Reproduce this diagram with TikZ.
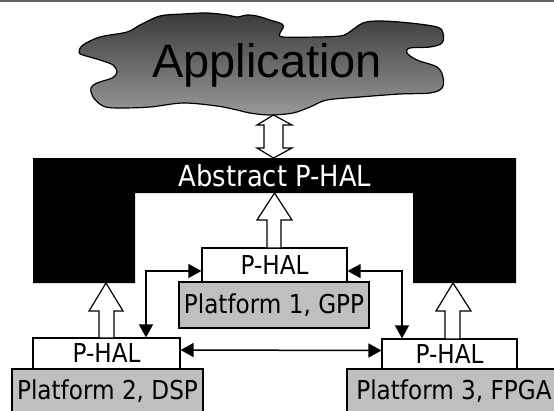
\documentclass[tikz,border=0pt]{standalone}
\usepackage{fontspec}
\usetikzlibrary{arrows.meta,calc}
\newfontfamily\tah[FakeStretch=0.89]{DejaVu Sans}
\newfontfamily\ari{Liberation Sans}
\begin{document}
\begin{tikzpicture}[x=1pt,y=-1pt,
  box/.style={draw=black,line width=1.2pt,inner sep=0pt,font=\tah\fontsize{26}{30}\selectfont},
  phal/.style={box,fill=white},
  plat/.style={box,fill=black!25},
  blk/.style={draw=black,line width=1.2pt,fill=white,line join=miter},
  dbl/.style={line width=1.5pt,{Triangle[length=13pt,width=14pt]}-{Triangle[length=13pt,width=14pt]}}]
\useasboundingbox (0,0) rectangle (554,410);
\fill[white] (0,0) rectangle (554,410);
\draw[black!60,line width=1.5pt] (0,0.75)--(554,0.75);
% cloud
\shade[top color=black!77,bottom color=black!40,draw=black,line width=1.2pt]
  plot[smooth cycle,tension=0.55] coordinates {
  (160,16) (183,14) (207,13) (227,15) (237,17) (247,15) (257,16) (270,20)
  (282,24) (283,28) (280,33) (283,37) (317,37) (340,36) (348,33) (363,23)
  (380,21) (410,23) (437,27) (443,33) (442,43) (430,47) (410,48) (407,53)
  (417,60) (437,67) (443,77) (442,88) (430,93) (400,94) (360,97) (327,100)
  (310,107) (293,113) (270,115) (250,113) (237,110) (217,106) (183,103)
  (150,107) (117,108) (103,106) (93,97) (91,88) (97,83) (112,78) (117,72)
  (113,65) (100,60) (83,55) (79,52) (83,45) (100,37) (127,32) (140,25)};
\node[font=\ari\fontsize{47}{50}\selectfont,inner sep=0pt] (app) at (267,65) {Application};
% double arrow
\draw[blk] (273.5,115) -- (292,125) -- (283,125) -- (283,148) -- (292,148) -- (273.5,158)
  -- (257,148) -- (264,148) -- (264,125) -- (257,125) -- cycle;
% abstract P-HAL
\fill[black] (33,158) -- (516,158) -- (516,283) -- (413,283) -- (413,193) -- (135,193)
  -- (135,283) -- (33,283) -- cycle;
\node[font=\tah\fontsize{29}{34}\selectfont,text=white,inner sep=0pt] (abs) at (275,176) {Abstract P-HAL};
% platform boxes
\node[plat,minimum width=190pt,minimum height=46pt] (plat1) at (274,305) {Platform 1, GPP};
\node[phal,minimum width=145pt,minimum height=34pt] (phal1) at (274.5,265) {P-HAL};
\node[plat,minimum width=191pt,minimum height=44pt] (plat2) at (107.5,391) {Platform 2, DSP};
\node[phal,minimum width=147pt,minimum height=31pt] (phal2) at (106.5,353.5) {P-HAL};
\node[plat,minimum width=214pt,minimum height=44pt] (plat3) at (454,391) {Platform 3, FPGA};
\node[phal,minimum width=135pt,minimum height=30pt] (phal3) at (449.5,354) {P-HAL};
% block up arrows
\draw[blk] (274.5,193) -- (292,220) -- (281,220) -- (281,248) -- (267,248) -- (267,220) -- (257,220) -- cycle;
\draw[blk] (106,283) -- (123,311) -- (114,311) -- (114,338) -- (99,338) -- (99,311) -- (89,311) -- cycle;
\draw[blk] (453,283) -- (471,311) -- (460,311) -- (460,339) -- (445,339) -- (445,311) -- (436,311) -- cycle;
% connectors
\draw[dbl] ([yshift=-6pt]phal1.west) -| ([xshift=39.5pt]phal2.north);
\draw[dbl] ([yshift=-6pt]phal1.east) -| ([xshift=-47.5pt]phal3.north);
\draw[dbl] ([yshift=3.5pt]phal2.east) -- ([yshift=3.5pt]phal3.west);
\end{tikzpicture}
\end{document}
